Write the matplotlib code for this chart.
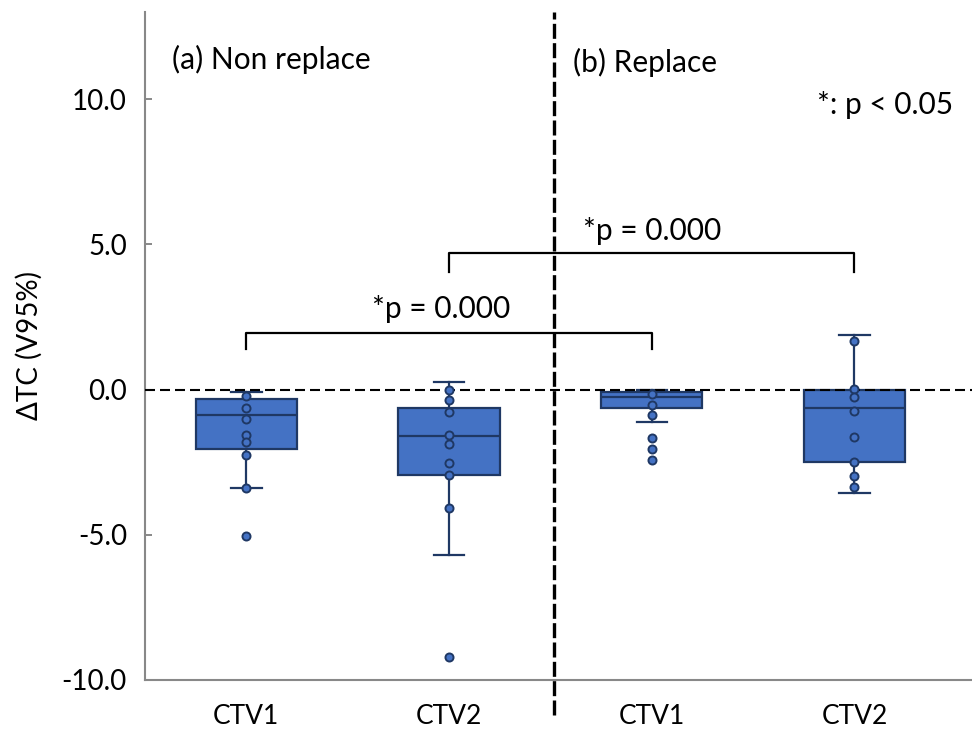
import matplotlib
matplotlib.use('Agg')
import matplotlib.pyplot as plt
import numpy as np

plt.rcParams['font.family'] = ['Lato', 'DejaVu Sans']

# categories and box statistics
categories = ['CTV1', 'CTV2', 'CTV1', 'CTV2']
whisker_low = [-3.40, -5.70, -1.13, -3.57]
q1 = [-2.06, -2.95, -0.65, -2.51]
median = [-0.86, -1.60, -0.27, -0.65]
q3 = [-0.34, -0.62, -0.10, -0.03]
whisker_high = [-0.10, 0.27, -0.03, 1.89]

# individual observations shown as dots
points = [
    [-0.21, -0.62, -1.00, -1.55, -1.82, -2.27, -3.40, -5.05],
    [0.00, -0.37, -0.79, -1.58, -1.86, -2.54, -2.95, -4.09, -9.21],
    [-0.17, -0.52, -0.89, -1.68, -2.06, -2.44],
    [1.68, 0.03, -0.27, -0.75, -1.65, -2.50, -2.99, -3.37],
]

# significance brackets: (left group, right group, bar height, foot height, label)
brackets = [
    (0, 2, 1.96, 1.41, '*p = 0.000'),
    (1, 3, 4.71, 4.06, '*p = 0.000'),
]
bracket_label_x = [0.96, 2.0]
bracket_label_y = [2.47, 5.15]

panel_labels = ['(a) Non replace', '(b) Replace']
note = '*: p < 0.05'

fill = '#4472C4'
edge = '#1F3864'
grey = '#888888'

fig = plt.figure(figsize=(9.72, 7.31), dpi=100)
ax = fig.add_axes([0.1492, 0.0698, 0.8508, 0.9138])

x = np.arange(len(categories))
stats = []
for i in range(len(categories)):
    stats.append(dict(med=median[i], q1=q1[i], q3=q3[i],
                      whislo=whisker_low[i], whishi=whisker_high[i], fliers=[]))

ax.bxp(stats, positions=x, widths=0.5, capwidths=0.15, patch_artist=True,
       showfliers=False,
       boxprops=dict(facecolor=fill, edgecolor=edge, linewidth=1.6),
       medianprops=dict(color=edge, linewidth=1.6),
       whiskerprops=dict(color=edge, linewidth=1.6),
       capprops=dict(color=edge, linewidth=1.6))

for i, vals in enumerate(points):
    ax.plot(np.full(len(vals), x[i]), vals, 'o', ms=5.8, mfc=fill, mec=edge,
            mew=1.4, zorder=5)

# zero reference line
ax.axhline(0, color='black', lw=1.5, dashes=(4.8, 2.4), zorder=4)

# divider between the two panels
divider_x = 1.52
ax.plot([divider_x, divider_x], [-11.2, 13], color='black', lw=2.4,
        dashes=(4.5, 1.3), clip_on=False, zorder=6)

for (a, b, top, foot, lab), lx, ly in zip(brackets, bracket_label_x, bracket_label_y):
    ax.plot([x[a], x[a], x[b], x[b]], [foot, top, top, foot], color='black',
            lw=1.6, zorder=3)
    ax.text(lx, ly, lab, ha='center', va='baseline', fontsize=21.5)

ax.text(-0.365, 11.05, panel_labels[0], ha='left', va='baseline', fontsize=21.5)
ax.text(1.613, 10.95, panel_labels[1], ha='left', va='baseline', fontsize=21.5)
ax.text(3.488, 9.48, note, ha='right', va='baseline', fontsize=21.5)

ax.set_xlim(-0.5, 3.58)
ax.set_ylim(-10, 13)
ax.set_yticks([-10, -5, 0, 5, 10])
ax.set_yticklabels(['%.1f' % v for v in [-10, -5, 0, 5, 10]])
ax.set_xticks(x)
ax.set_xticklabels(categories)
ax.set_ylabel('ΔTC (V95%)', fontsize=20, labelpad=14)

ax.tick_params(axis='y', direction='in', length=5, width=1.4, color=grey,
               labelsize=20, pad=13)
ax.tick_params(axis='x', length=0, labelsize=19, pad=17)

for side in ['top', 'right']:
    ax.spines[side].set_visible(False)
for side in ['left', 'bottom']:
    ax.spines[side].set_color(grey)
    ax.spines[side].set_linewidth(1.5)

fig.savefig('out.png', dpi=100)
plt.close(fig)
